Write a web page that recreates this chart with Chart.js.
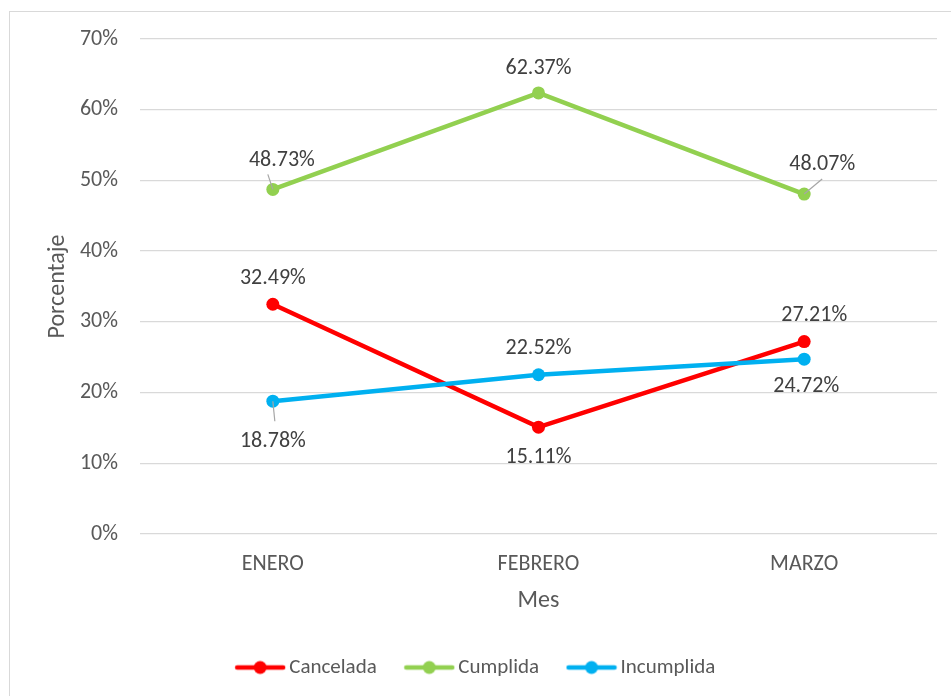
<!DOCTYPE html>
<html>
<head>
<meta charset="utf-8">
<script src="https://cdn.jsdelivr.net/npm/chart.js@4.4.1/dist/chart.umd.min.js"></script>
<style>
  html, body { margin: 0; padding: 0; background: #ffffff; }
  #wrap { position: relative; width: 951px; height: 696px; overflow: hidden; }
  #frame { position: absolute; left: 9px; top: 11px; width: 960px; height: 700px; border: 1px solid #d9d9d9; box-sizing: border-box; }
  canvas { position: absolute; left: 0; top: 0; }
</style>
</head>
<body>
<div id="wrap">
  <div id="frame"></div>
  <canvas id="c" width="951" height="696"></canvas>
</div>
<script>
const categories = ['ENERO', 'FEBRERO', 'MARZO'];
const seriesNames = ['Cancelada', 'Cumplida', 'Incumplida'];
const cancelada = [32.49, 15.11, 27.21];
const cumplida = [48.73, 62.37, 48.07];
const incumplida = [18.78, 22.52, 24.72];
const yTicks = [0, 10, 20, 30, 40, 50, 60, 70];

const FONT = "'Carlito', 'Lato', 'Liberation Sans', sans-serif";
const colors = ['#FF0000', '#92D050', '#00B0F0'];

// label placement (pixels relative to the point) and optional leader line ends
const labelPlacement = [
  [{dx: 0, dy: -26}, {dx: 0, dy: 30}, {dx: 10, dy: -26}],
  [{dx: 9, dy: -29, lx: -5, ly: -15}, {dx: 0, dy: -24}, {dx: 18, dy: -30, lx: 18, ly: -15}],
  [{dx: 0, dy: 40, lx: 2, ly: 20}, {dx: 0, dy: -26}, {dx: 2, dy: 27}]
];

function legendIcon(color) {
  const cv = document.createElement('canvas');
  cv.width = 52; cv.height = 16;
  const g = cv.getContext('2d');
  g.strokeStyle = color; g.lineWidth = 4.5; g.lineCap = 'round';
  g.beginPath(); g.moveTo(3, 8); g.lineTo(49, 8); g.stroke();
  g.fillStyle = color; g.beginPath(); g.arc(26, 8, 6.5, 0, Math.PI * 2); g.fill();
  return cv;
}
const icons = colors.map(legendIcon);

const dataLabels = {
  id: 'dataLabels',
  afterDatasetsDraw(chart) {
    const ctx = chart.ctx;
    ctx.save();
    chart.data.datasets.forEach((ds, di) => {
      const meta = chart.getDatasetMeta(di);
      meta.data.forEach((pt, i) => {
        const p = labelPlacement[di][i];
        if (p.lx !== undefined) {
          ctx.strokeStyle = '#a6a6a6'; ctx.lineWidth = 1.2;
          ctx.beginPath(); ctx.moveTo(pt.x + p.lx, pt.y + p.ly); ctx.lineTo(pt.x, pt.y); ctx.stroke();
        }
        ctx.fillStyle = '#404040';
        ctx.font = '22px ' + FONT;
        ctx.textAlign = 'center'; ctx.textBaseline = 'middle';
        ctx.fillText(ds.data[i].toFixed(2) + '%', pt.x + p.dx, pt.y + p.dy);
      });
    });
    ctx.restore();
  }
};

const series = [cancelada, cumplida, incumplida];
const drawOrder = [3, 2, 1];

new Chart(document.getElementById('c'), {
  type: 'line',
  data: {
    labels: categories,
    datasets: series.map((vals, k) => ({
      label: seriesNames[k],
      data: vals,
      borderColor: colors[k],
      backgroundColor: colors[k],
      borderWidth: 4.5,
      pointRadius: 6.5,
      pointHoverRadius: 6.5,
      pointBorderWidth: 0,
      pointStyle: 'circle',
      tension: 0,
      order: drawOrder[k]
    }))
  },
  options: {
    responsive: false,
    animation: false,
    events: [],
    layout: { padding: { top: 39, left: 20, right: 14, bottom: 8 } },
    scales: {
      x: {
        offset: true,
        grid: { display: false, drawTicks: false },
        border: { display: false },
        ticks: { color: '#595959', font: { family: FONT, size: 22 }, padding: 17 },
        title: { display: true, text: 'Mes', color: '#595959', font: { family: FONT, size: 24 }, padding: { top: 10, bottom: 8 } },
        afterFit(s) { s.height = 89; }
      },
      y: {
        min: 0, max: 70,
        afterBuildTicks(s) { s.ticks = yTicks.map(v => ({ value: v })); },
        grid: { color: '#d9d9d9', lineWidth: 1.3, drawTicks: false },
        border: { display: false },
        ticks: { color: '#595959', font: { family: FONT, size: 22 }, padding: 22, callback: v => v + '%' },
        title: { display: true, text: 'Porcentaje', color: '#595959', font: { family: FONT, size: 24 }, padding: { top: 24, bottom: 0 } },
        afterFit(s) { s.width = 120; }
      }
    },
    plugins: {
      tooltip: { enabled: false },
      legend: {
        position: 'bottom',
        labels: {
          usePointStyle: true,
          pointStyleWidth: 37,
          color: '#595959',
          font: { family: FONT, size: 21 },
          padding: 34,
          sort: (a, b) => a.datasetIndex - b.datasetIndex,
          generateLabels(chart) {
            return chart.data.datasets.map((ds, i) => ({
              text: ds.label, datasetIndex: i, pointStyle: icons[i],
              fillStyle: colors[i], strokeStyle: colors[i], lineWidth: 0, hidden: false, fontColor: '#595959'
            }));
          }
        }
      }
    }
  },
  plugins: [dataLabels]
});
</script>
</body>
</html>
